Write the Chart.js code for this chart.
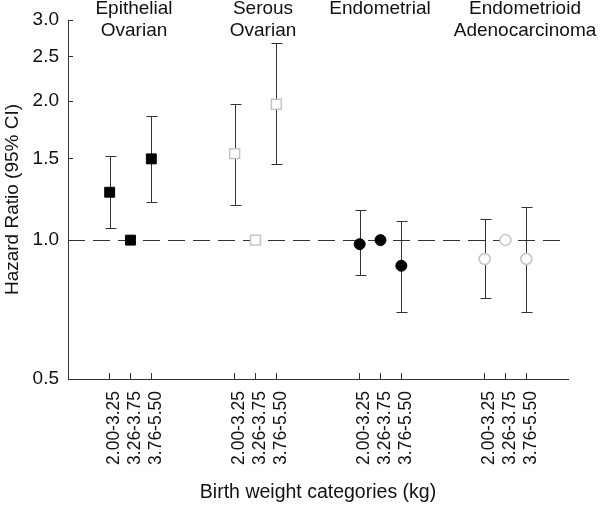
<!DOCTYPE html>
<html>
<head>
<meta charset="utf-8">
<script src="https://cdn.jsdelivr.net/npm/chart.js@4/dist/chart.umd.min.js"></script>
<style>
  html, body { margin: 0; padding: 0; background: #fff; }
  #wrap { width: 600px; height: 507px; }
</style>
</head>
<body>
<div id="wrap"><canvas id="c" width="600" height="507"></canvas></div>
<script>
// categories
const groupNames = [['Epithelial', 'Ovarian'], ['Serous', 'Ovarian'], ['Endometrial'], ['Endometrioid', 'Adenocarcinoma']];
const weightCats = ['2.00-3.25', '3.26-3.75', '3.76-5.50'];
const groupStart = [0, 6, 12, 18];

// hazard ratios and 95% CI (reference category 3.26-3.75 has no CI)
const epithelialHR = [1.27, 1.0, 1.50];
const epithelialLo = [1.06, null, 1.21];
const epithelialHi = [1.52, null, 1.86];

const serousHR = [1.54, 1.0, 1.97];
const serousLo = [1.19, null, 1.46];
const serousHi = [1.97, null, 2.67];

const endometrialHR = [0.98, 1.0, 0.88];
const endometrialLo = [0.84, null, 0.70];
const endometrialHi = [1.16, null, 1.10];

const endometrioidHR = [0.91, 1.0, 0.91];
const endometrioidLo = [0.75, null, 0.70];
const endometrioidHi = [1.11, null, 1.18];

const yTicks = [0.5, 1.0, 1.5, 2.0, 2.5, 3.0];

const FONT = "'Liberation Sans', Arial, sans-serif";
const INK = '#111';

function pts(g, hr, lo, hi) {
    return hr.map((v, i) => ({ x: groupStart[g] + i, y: v, lo: lo[i], hi: hi[i] }));
}

const xTickVals = [];
groupStart.forEach(s => weightCats.forEach((c, i) => xTickVals.push(s + i)));

// title centres in pixels (layout, not data)
const titleCenterX = [134, 263, 380, 525];

const refLinePlugin = {
    id: 'refLine',
    beforeDatasetsDraw(chart) {
        const ctx = chart.ctx, area = chart.chartArea;
        const xs = chart.scales.x, ys = chart.scales.y;
        // dashed line at HR = 1
        const y1 = Math.round(ys.getPixelForValue(1.0)) + 0.5;
        ctx.save();
        ctx.strokeStyle = '#333';
        ctx.lineWidth = 1;
        ctx.setLineDash([17, 8]);
        ctx.beginPath();
        ctx.moveTo(area.left, y1);
        ctx.lineTo(area.right, y1);
        ctx.stroke();
        ctx.setLineDash([]);
        // error bars
        chart.data.datasets.forEach(ds => {
            ds.data.forEach(p => {
                if (p.lo == null) return;
                const x = Math.round(xs.getPixelForValue(p.x)) + 0.5;
                const yl = Math.round(ys.getPixelForValue(p.lo)) + 0.5;
                const yh = Math.round(ys.getPixelForValue(p.hi)) + 0.5;
                ctx.beginPath();
                ctx.moveTo(x, yl); ctx.lineTo(x, yh);
                ctx.moveTo(x - 5, yl); ctx.lineTo(x + 6, yl);
                ctx.moveTo(x - 5, yh); ctx.lineTo(x + 6, yh);
                ctx.stroke();
            });
        });
        ctx.restore();
    },
    afterDraw(chart) {
        const ctx = chart.ctx;
        ctx.save();
        ctx.fillStyle = INK;
        ctx.font = '19px ' + FONT;
        ctx.textAlign = 'center';
        ctx.textBaseline = 'alphabetic';
        groupNames.forEach((lines, g) => {
            lines.forEach((t, k) => ctx.fillText(t, titleCenterX[g], 14 + k * 22));
        });
        ctx.restore();
    }
};

const filled = { backgroundColor: '#000', borderColor: '#000', borderWidth: 1 };
const open = { backgroundColor: '#fff', borderColor: '#c4c4c4', borderWidth: 1.5 };

new Chart(document.getElementById('c'), {
    type: 'scatter',
    data: {
        datasets: [
            Object.assign({ label: 'Epithelial Ovarian', data: pts(0, epithelialHR, epithelialLo, epithelialHi), pointStyle: 'rect', pointRadius: 7 }, filled),
            Object.assign({ label: 'Serous Ovarian', data: pts(1, serousHR, serousLo, serousHi), pointStyle: 'rect', pointRadius: 7 }, open),
            Object.assign({ label: 'Endometrial', data: pts(2, endometrialHR, endometrialLo, endometrialHi), pointStyle: 'circle', pointRadius: 5.5 }, filled),
            Object.assign({ label: 'Endometrioid Adenocarcinoma', data: pts(3, endometrioidHR, endometrioidLo, endometrioidHi), pointStyle: 'circle', pointRadius: 5.5 }, open)
        ]
    },
    options: {
        responsive: false,
        animation: false,
        events: [],
        layout: { padding: { top: 20, right: 32, left: 0, bottom: 0 } },
        plugins: { legend: { display: false }, tooltip: { enabled: false } },
        scales: {
            x: {
                type: 'linear',
                min: -2,
                max: 22,
                afterFit: s => { s.height = 128; s.paddingLeft = 0; s.paddingRight = 0; },
                afterBuildTicks: s => { s.ticks = xTickVals.map(v => ({ value: v })); },
                grid: { drawOnChartArea: false, color: '#333', tickLength: -6 },
                border: { color: '#333', width: 1 },
                ticks: {
                    autoSkip: false,
                    minRotation: 90,
                    maxRotation: 90,
                    padding: 18,
                    labelOffset: 5,
                    color: INK,
                    font: { family: FONT, size: 17.5 },
                    callback: v => weightCats[((v % 6) + 6) % 6]
                },
                title: {
                    display: true,
                    text: 'Birth weight categories (kg)',
                    color: INK,
                    font: { family: FONT, size: 19.5 },
                    padding: { top: 0, bottom: 3 }
                }
            },
            y: {
                type: 'logarithmic',
                min: 0.5,
                max: 3.0,
                afterFit: s => { s.width = 68; s.paddingTop = 0; s.paddingBottom = 0; },
                afterBuildTicks: s => { s.ticks = yTicks.map(v => ({ value: v })); },
                grid: { drawOnChartArea: false, color: '#333', tickLength: -5 },
                border: { color: '#333', width: 1 },
                ticks: {
                    padding: 14,
                    color: INK,
                    font: { family: FONT, size: 19 },
                    callback: v => Number(v).toFixed(1)
                },
                title: {
                    display: true,
                    text: 'Hazard Ratio (95% CI)',
                    color: INK,
                    font: { family: FONT, size: 19 },
                    padding: { top: 1, bottom: 0 }
                }
            }
        }
    },
    plugins: [refLinePlugin]
});
</script>
</body>
</html>
